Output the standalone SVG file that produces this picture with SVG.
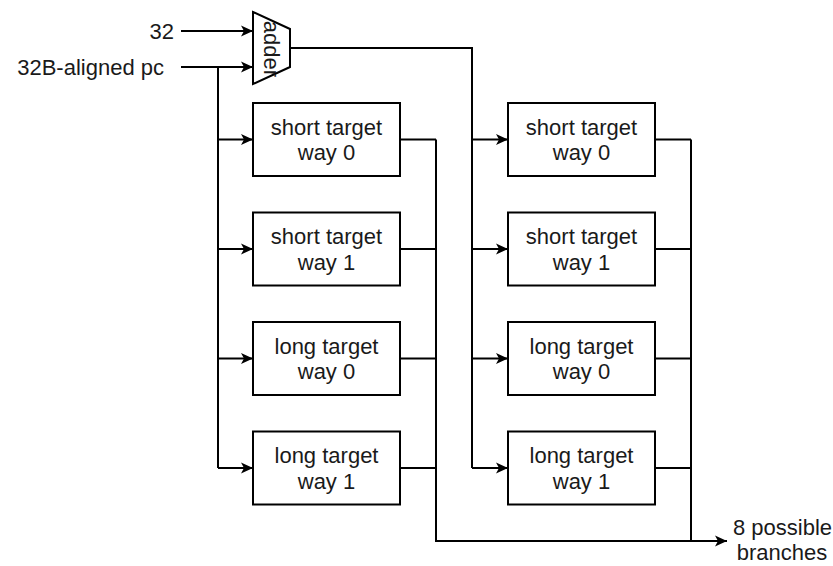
<svg xmlns="http://www.w3.org/2000/svg" width="833" height="566" viewBox="0 0 833 566">
<defs>
<style>
.box{fill:#fff;stroke:#000;stroke-width:2}
.ln{fill:none;stroke:#000;stroke-width:2}
.t{font-family:"Liberation Sans",Arial,sans-serif;font-size:22px;fill:#1a1a1a;text-anchor:middle;dominant-baseline:central}
</style>
<marker id="ar" viewBox="0 0 12 12" refX="12" refY="6" markerWidth="12" markerHeight="12" markerUnits="userSpaceOnUse" orient="auto">
<path d="M0,0.5 L12,6 L0,11.5 L3,6 Z" fill="#000"/>
</marker>
</defs>
<rect width="833" height="566" fill="#fff"/>
<g id="connectors">
<path class="ln" d="M181,31 H253" marker-end="url(#ar)"/>
<path class="ln" d="M181,67 H253" marker-end="url(#ar)"/>
<path class="ln" d="M218,67 V468"/>
<path class="ln" d="M218,139.5 H253" marker-end="url(#ar)"/>
<path class="ln" d="M218,249 H253" marker-end="url(#ar)"/>
<path class="ln" d="M218,358.5 H253" marker-end="url(#ar)"/>
<path class="ln" d="M218,468 H253" marker-end="url(#ar)"/>
<path class="ln" d="M290,48 H472 V468"/>
<path class="ln" d="M472,139.5 H508" marker-end="url(#ar)"/>
<path class="ln" d="M472,249 H508" marker-end="url(#ar)"/>
<path class="ln" d="M472,358.5 H508" marker-end="url(#ar)"/>
<path class="ln" d="M472,468 H508" marker-end="url(#ar)"/>
<path class="ln" d="M400,139.5 H436 M400,249 H436 M400,358.5 H436 M400,468 H436"/>
<path class="ln" d="M436,139.5 V541 H727" marker-end="url(#ar)"/>
<path class="ln" d="M655,139.5 H691 M655,249 H691 M655,358.5 H691 M655,468 H691"/>
<path class="ln" d="M691,139.5 V541"/>
</g>
<g id="in32"><text class="t" x="174" y="31" style="text-anchor:end">32</text></g>
<g id="inpc"><text class="t" x="164" y="67" style="text-anchor:end">32B-aligned pc</text></g>
<g id="adder">
<path class="box" d="M253,12 L290,29 L290,67 L253,84 Z"/>
<text class="t" transform="translate(271,49) rotate(90)">adder</text>
</g>
<g id="l0"><rect class="box" x="253" y="103" width="147" height="73"/><text class="t" x="326.5" y="127">short target</text><text class="t" x="326.5" y="152.5">way 0</text></g>
<g id="l1"><rect class="box" x="253" y="212.5" width="147" height="73"/><text class="t" x="326.5" y="236.5">short target</text><text class="t" x="326.5" y="262">way 1</text></g>
<g id="l2"><rect class="box" x="253" y="322" width="147" height="73"/><text class="t" x="326.5" y="346">long target</text><text class="t" x="326.5" y="371.5">way 0</text></g>
<g id="l3"><rect class="box" x="253" y="431.5" width="147" height="73"/><text class="t" x="326.5" y="455.5">long target</text><text class="t" x="326.5" y="481">way 1</text></g>
<g id="r0"><rect class="box" x="508" y="103" width="147" height="73"/><text class="t" x="581.5" y="127">short target</text><text class="t" x="581.5" y="152.5">way 0</text></g>
<g id="r1"><rect class="box" x="508" y="212.5" width="147" height="73"/><text class="t" x="581.5" y="236.5">short target</text><text class="t" x="581.5" y="262">way 1</text></g>
<g id="r2"><rect class="box" x="508" y="322" width="147" height="73"/><text class="t" x="581.5" y="346">long target</text><text class="t" x="581.5" y="371.5">way 0</text></g>
<g id="r3"><rect class="box" x="508" y="431.5" width="147" height="73"/><text class="t" x="581.5" y="455.5">long target</text><text class="t" x="581.5" y="481">way 1</text></g>
<g id="out"><text class="t" x="733" y="527" style="text-anchor:start">8 possible</text><text class="t" x="782" y="552">branches</text></g>
</svg>
